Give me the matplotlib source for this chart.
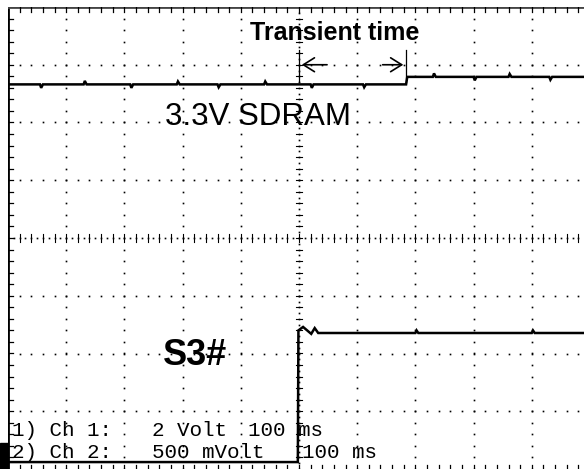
import numpy as np
import matplotlib
matplotlib.use("Agg")
import matplotlib.pyplot as plt
from matplotlib.patches import Rectangle

# screen is 10 x 8 divisions, only ~9.9 divisions wide are visible
XMAX = 9.897
YMIN, YMAX = -4.0, 4.0

# channel 1 (3.3V SDRAM), in divisions
ch1_t = [0.0, 0.55, 0.57, 0.6, 1.3, 1.32, 1.35, 2.1, 2.12, 2.15, 2.9, 2.92, 2.95,
         3.6, 3.62, 3.65, 4.4, 4.42, 4.45, 5.2, 5.22, 5.25, 6.1, 6.12, 6.15, 6.84,
         6.86, 7.3, 7.32, 7.35, 8.0, 8.02, 8.05, 8.6, 8.62, 8.65, 9.3, 9.32, 9.35, 9.9]
ch1_v = [2.66, 2.66, 2.60, 2.66, 2.66, 2.72, 2.66, 2.66, 2.60, 2.66, 2.66, 2.71, 2.66,
         2.66, 2.61, 2.66, 2.66, 2.71, 2.66, 2.66, 2.60, 2.66, 2.66, 2.61, 2.66, 2.66,
         2.79, 2.79, 2.85, 2.79, 2.79, 2.73, 2.79, 2.79, 2.84, 2.79, 2.79, 2.74, 2.79, 2.79]

# channel 2 (S3#)
ch2_t = [0.0, 4.98, 4.99, 5.07, 5.21, 5.27, 5.33, 7.0, 7.02, 7.05, 9.0, 9.02, 9.05, 9.9]
ch2_v = [-3.88, -3.88, -1.60, -1.54, -1.66, -1.56, -1.645, -1.645, -1.60, -1.645,
         -1.645, -1.60, -1.645, -1.645]

labels = ["Transient time", "3.3V SDRAM", "S3#"]
readout1 = ["1) Ch 1:", "2 Volt", "100 ms"]
readout2 = ["2) Ch 2:", "500 mVolt", "100 ms"]

W, H = 584, 469
fig = plt.figure(figsize=(W / 100, H / 100), dpi=100)
ax = fig.add_axes([8 / W, 0, (W - 8) / W, (H - 7) / H])
ax.set_xlim(0, XMAX)
ax.set_ylim(YMIN, YMAX)
ax.axis("off")

dot = dict(ls="", marker="s", ms=1.2, color="black", mec="none")

# graticule
fy = np.arange(YMIN, YMAX + 0.01, 0.2)
fx = np.arange(0, XMAX, 0.2)
for gx in range(1, 10):
    if gx == 5:
        continue
    ax.plot(np.full(len(fy), gx), fy, **dot)
for gy in range(-3, 4):
    if gy == 0:
        continue
    ax.plot(fx, np.full(len(fx), gy), **dot)

# centre lines, denser with little ticks
cx = np.arange(0, XMAX, 0.1)
cy = np.arange(YMIN, YMAX, 0.1)
ax.plot(cx, np.zeros(len(cx)), **dot)
ax.plot(np.full(len(cy), 5.0), cy, **dot)
for t in np.arange(0.2, XMAX, 0.2):
    ax.plot([t, t], [-0.07, 0.07], color="black", lw=0.8)
for t in np.arange(-3.8, 4.0, 0.2):
    ax.plot([4.94, 5.06], [t, t], color="black", lw=0.8)

# border and edge ticks
ax.plot([0, 0], [YMIN, YMAX], color="black", lw=2)
ax.plot([0, XMAX], [YMAX, YMAX], color="#444444", lw=2)
for t in np.arange(0.2, XMAX, 0.2):
    ax.plot([t, t], [YMAX, YMAX - 0.08], color="black", lw=0.9)
    ax.plot([t, t], [YMIN, YMIN + 0.07], color="black", lw=0.9)
for t in np.arange(-3.8, 4.0, 0.2):
    ax.plot([0, 0.08], [t, t], color="black", lw=0.9)

# traces
ax.plot(ch1_t, ch1_v, color="black", lw=1.8, solid_joinstyle="miter")
ax.plot(ch2_t, ch2_v, color="black", lw=1.8, solid_joinstyle="miter")

# transient time markers
ax.plot([5.0, 5.0], [2.70, 3.26], color="black", lw=0.9)
ax.plot([6.84, 6.84], [2.70, 3.26], color="black", lw=0.9)
ax.annotate("", xy=(5.0, 3.0), xytext=(5.53, 3.0),
            arrowprops=dict(arrowstyle="->,head_length=0.8,head_width=0.5", lw=1.2, color="black"))
ax.annotate("", xy=(6.84, 3.0), xytext=(6.39, 3.0),
            arrowprops=dict(arrowstyle="->,head_length=0.8,head_width=0.5", lw=1.2, color="black"))

sans = ["Liberation Sans", "DejaVu Sans"]
ax.text(4.16, 3.55, labels[0], fontsize=18, fontweight="bold", family=sans, va="center")
ax.text(2.70, 2.10, labels[1], fontsize=22.5, family=sans, va="center")
ax.text(2.66, -2.03, labels[2], fontsize=26, fontweight="bold", family=sans, va="center")

mono = ["Liberation Mono", "DejaVu Sans Mono"]
for xs, s in zip([0.07, 2.47, 4.12], readout1):
    ax.text(xs, -3.33, s, fontsize=15, family=mono, va="center")
for xs, s in zip([0.07, 2.47, 5.05], readout2):
    ax.text(xs, -3.72, s, fontsize=15, family=mono, va="center")

# channel 2 marker left of the screen
fig.patches.append(Rectangle((0, 0), 8 / W, 26 / H, transform=fig.transFigure,
                             color="black"))

fig.savefig("out.png", dpi=100, facecolor="white")
